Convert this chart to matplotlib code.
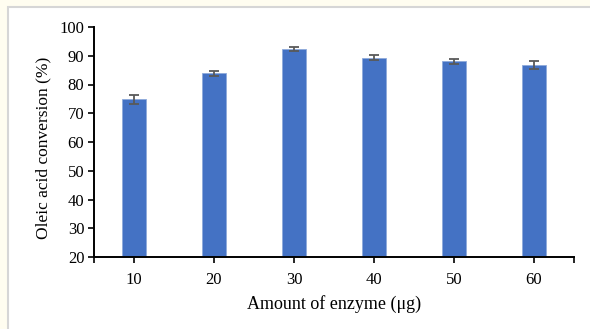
import matplotlib.pyplot as plt
from matplotlib.patches import Rectangle
import numpy as np

# Data
enzyme = ['10', '20', '30', '40', '50', '60']
conversion = [74.8, 83.9, 92.3, 89.3, 88.1, 86.8]
err = [1.5, 0.9, 0.8, 0.8, 0.9, 1.4]

plt.rcParams['font.family'] = ['Liberation Serif', 'DejaVu Serif']

fig = plt.figure(figsize=(5.9, 3.29), dpi=100, facecolor='#fffdf0')

# White panel with light grey frame (runs off the right/bottom edges)
fig.patches.append(Rectangle((7.5/590, -0.1), 1.2, 1 - 7.5/329 + 0.1,
                             transform=fig.transFigure, facecolor='white',
                             edgecolor='#d6d6d6', lw=1.5, zorder=-10))

ax = fig.add_axes([94/590, 1 - 257/329, 480/590, 230/329])
ax.set_facecolor('none')

x = np.arange(len(enzyme))
ax.bar(x, conversion, width=0.3, color='#4472c4', edgecolor='#8eaadb',
       linewidth=0.6, bottom=0, zorder=2)
ax.errorbar(x, conversion, yerr=err, fmt='none', ecolor='#595959',
            elinewidth=1.3, capsize=3.5, capthick=1.3, zorder=3)

ax.set_xlim(-0.5, len(enzyme) - 0.5)
ax.set_ylim(20, 100)
ax.set_yticks(range(20, 101, 10))
ax.set_xticks(x)
ax.set_xticklabels(enzyme)
ax.set_xticks([-0.5, len(enzyme) - 0.5], minor=True)

for s in ['top', 'right']:
    ax.spines[s].set_visible(False)
for s in ['left', 'bottom']:
    ax.spines[s].set_linewidth(1.4)
    ax.spines[s].set_color('black')

ax.tick_params(axis='y', direction='out', length=4, width=1.2, labelsize=12, pad=3)
ax.tick_params(axis='x', which='both', direction='out', length=4, width=1.2,
               labelsize=12, pad=7)

ax.set_xlabel('Amount of enzyme (μg)', fontsize=13, labelpad=5)
ax.set_ylabel('Oleic acid conversion (%)', fontsize=12.5)
ax.yaxis.set_label_coords(-0.088, 0.475)

fig.savefig('out.png', dpi=100, facecolor=fig.get_facecolor())
